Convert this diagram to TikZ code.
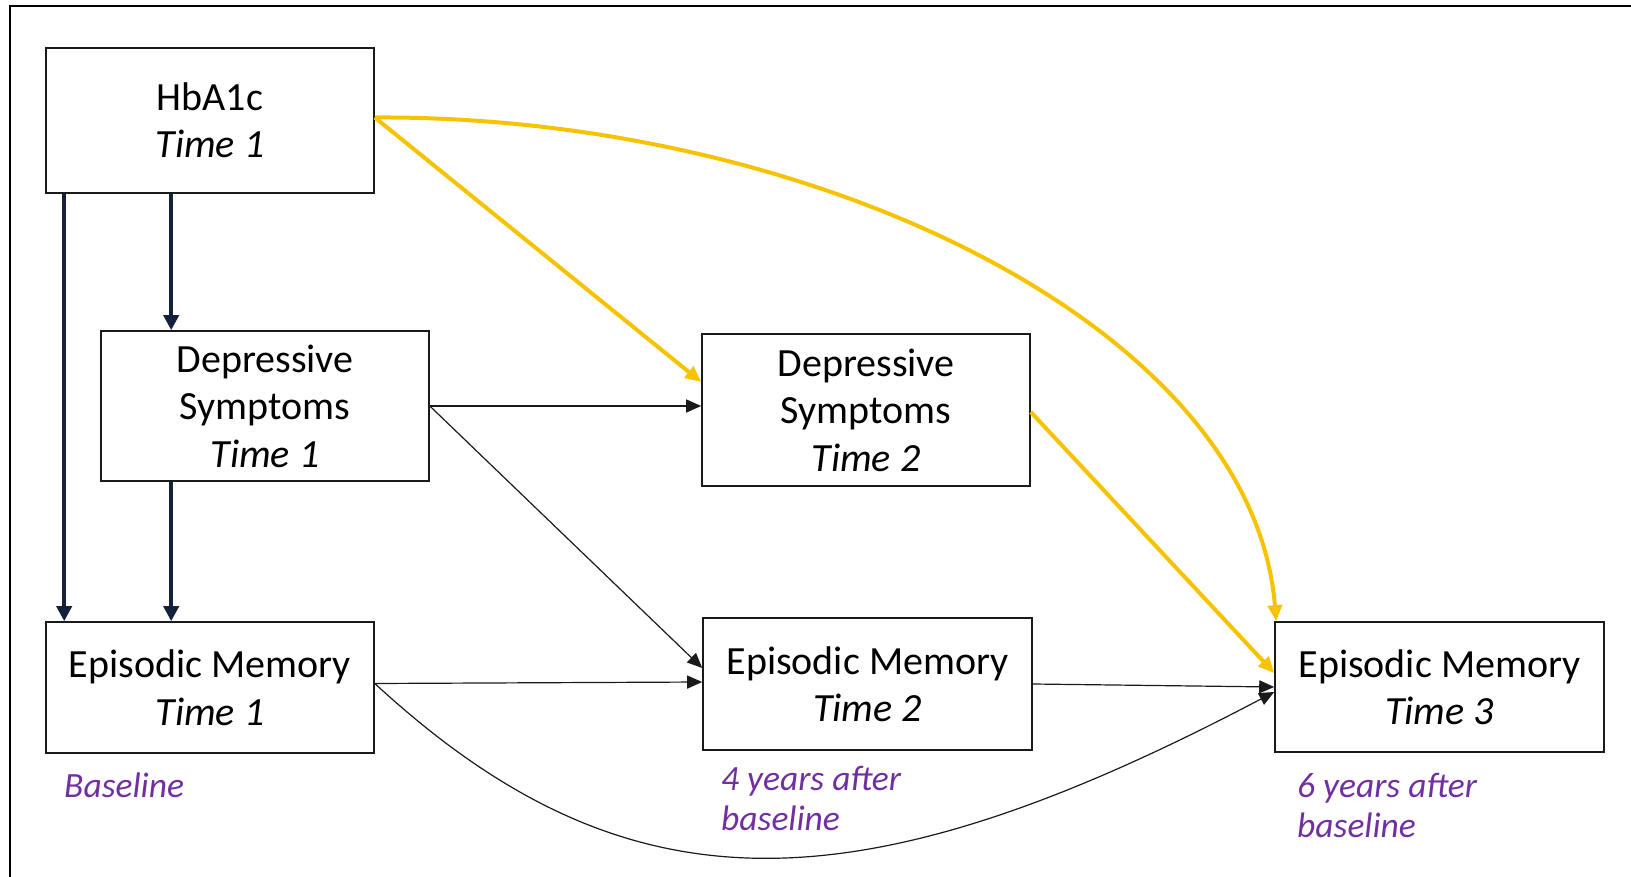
\documentclass[tikz,border=0pt]{standalone}
\usepackage{fontspec}
\setmainfont{Carlito}
\usetikzlibrary{arrows.meta,calc}
\definecolor{navy}{HTML}{14213D}
\definecolor{gold}{HTML}{F7C300}
\definecolor{lbl}{HTML}{7030A0}
\definecolor{ink}{HTML}{1A1A1A}
\tikzset{
  box/.style={draw=ink, line width=1.6pt, rectangle, align=center, inner sep=0pt,
    font=\fontsize{40}{47.5}\selectfont},
  navyarrow/.style={draw=navy, line width=4pt, -{Triangle[length=15pt,width=15pt]}},
  goldarrow/.style={draw=gold, line width=4pt, -{Triangle[length=16pt,width=14pt]}},
  thinarrow/.style={draw=ink, line width=1.2pt, -{Triangle[length=15pt,width=13pt]}},
  note/.style={text=lbl, align=left, inner sep=0pt, font=\fontsize{35.5}{40}\selectfont\itshape},
  frame/.style={draw=black, line width=2.5pt}
}
\begin{document}
\begin{tikzpicture}[x=1pt,y=-1pt]
\useasboundingbox (0,0) rectangle (1631,877);
\coordinate (fr1) at (10,6);
\coordinate (fr2) at (1631,6);
\coordinate (fr3) at (10,877);
\draw[frame] (fr3) -- (fr1) -- (fr2);

\node[box, minimum width=328pt, minimum height=145pt] (hb) at (210,120.5) {HbA1c\\\textit{Time 1}};
\node[box, minimum width=328pt, minimum height=150pt] (ds1) at (265,406) {Depressive\\Symptoms\\\textit{Time 1}};
\node[box, minimum width=328pt, minimum height=152pt] (ds2) at (866,410) {Depressive\\Symptoms\\\textit{Time 2}};
\node[box, minimum width=328pt, minimum height=131pt] (em1) at (210,687.5) {Episodic Memory\\\textit{Time 1}};
\node[box, minimum width=329pt, minimum height=132pt] (em2) at (867.5,684) {Episodic Memory\\\textit{Time 2}};
\node[box, minimum width=329pt, minimum height=130pt] (em3) at (1439.5,687) {Episodic Memory\\\textit{Time 3}};

\node[note, anchor=base west] (l1) at (64,797) {Baseline};
\node[note, anchor=west] (l2) at (721,798) {4 years after\\baseline};
\node[note, anchor=west] (l3) at (1297,805) {6 years after\\baseline};

% navy arrows
\draw[navyarrow] ([xshift=19pt]hb.south west) -- ([xshift=19pt]em1.north west);
\draw[navyarrow] ([xshift=126pt]hb.south west) -- ([xshift=71pt]ds1.north west);
\draw[navyarrow] ([xshift=71pt]ds1.south west) -- ([xshift=126pt]em1.north west);

% gold arrows
\draw[goldarrow] ([yshift=3pt]hb.east) -- ([yshift=28pt]ds2.west);
\draw[goldarrow] ([yshift=3pt]hb.east) .. controls (810,115) and (1252,325) .. ([xshift=2pt]em3.north west);
\draw[goldarrow] ([yshift=-2pt]ds2.east) -- ([yshift=14pt]em3.west);

% thin arrows
\draw[thinarrow] (ds1.east) -- (ds1.east -| ds2.west);
\draw[thinarrow] (ds1.east) -- ([yshift=16pt]em2.west);
\draw[thinarrow] ([yshift=4pt]em1.east) -- ([yshift=2pt]em2.west);
\draw[thinarrow] (em2.east) -- (em3.west);
\draw[thinarrow] ([yshift=4pt]em1.east) .. controls (625,914) and (853,914) .. ([yshift=-5pt]em3.west);
\end{tikzpicture}
\end{document}
